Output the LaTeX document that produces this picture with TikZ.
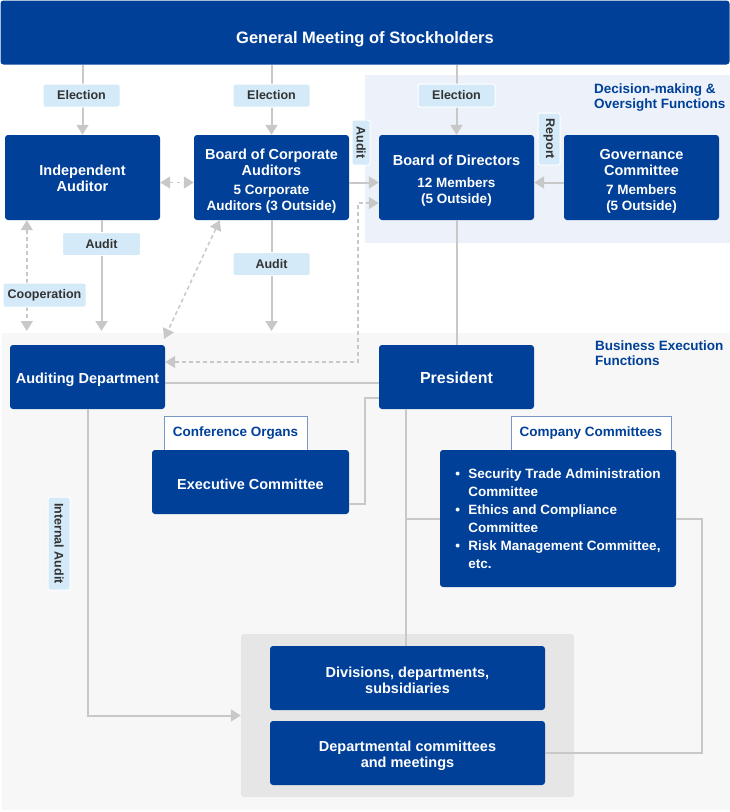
\documentclass[tikz,border=0pt]{standalone}
\usepackage{fontspec}
\setmainfont{Liberation Sans}
\usetikzlibrary{arrows.meta}
\definecolor{navy}{RGB}{0,64,152}
\definecolor{decfill}{RGB}{237,242,250}
\definecolor{execfill}{RGB}{247,247,247}
\definecolor{boxgray}{RGB}{230,230,230}
\definecolor{tagblue}{RGB}{213,234,248}
\definecolor{tagtext}{RGB}{51,51,51}
\definecolor{tabline}{RGB}{120,150,200}
\definecolor{linegray}{RGB}{200,200,200}
\newcommand\members[1]{{\fontsize{13.5}{16}\selectfont #1}}

\begin{document}
\begin{tikzpicture}[x=1pt,y=-1pt,
  orgbox/.style={fill=navy,rounded corners=3pt,text=white,align=center,inner sep=0pt,minimum width=155pt,minimum height=85pt,text depth=0pt,font=\bfseries\fontsize{14.5}{16}\selectfont},
  lowbox/.style={orgbox,minimum height=64pt},
  tag/.style={fill=tagblue,draw=white,line width=1pt,rounded corners=2pt,text=tagtext,inner sep=0pt,minimum height=23pt,font=\bfseries\fontsize{12.5}{14}\selectfont},
  tab/.style={fill=white,draw=tabline,line width=0.8pt,text=navy,inner sep=0pt,minimum height=34pt,font=\bfseries\fontsize{13.5}{15}\selectfont},
  zonelabel/.style={anchor=west,align=left,text=navy,inner sep=0pt,font=\bfseries\fontsize{13.5}{15}\selectfont},
  conn/.style={draw=linegray,line width=2pt},
  arr/.style={conn,-{Triangle[width=12pt,length=10pt]}},
  dconn/.style={conn,line width=1.5pt,dash pattern=on 4pt off 3pt,{Triangle[width=12pt,length=10pt]}-{Triangle[width=12pt,length=10pt]}}
]
\useasboundingbox (0,0) rectangle (730,812);
\fill[decfill] (365,75) rectangle (730,243);
\fill[execfill] (2,333) rectangle (730,810);
\node[zonelabel] (dlab) at (594,97.5) {Decision-making \&\\Oversight Functions};
\node[zonelabel] (elab) at (595,353.5) {Business Execution\\Functions};
\node[fill=navy,rounded corners=3pt,minimum width=729pt,minimum height=64pt,text height=21pt,text depth=0pt,text=white,font=\bfseries\fontsize{16.5}{18}\selectfont] (gms) at (365,32.5) {General Meeting of Stockholders};

\node[orgbox,text height=27pt] (ia) at (82.5,177.5) {Independent\\Auditor};
\node[orgbox,text height=65pt] (bca) at (271.5,177.5) {Board of Corporate\\Auditors\\[3pt]\members{5 Corporate}\\\members{Auditors (3 Outside)}};
\node[orgbox,text height=51pt] (bod) at (456.5,177.5) {Board of Directors\\[6pt]\members{12 Members}\\\members{(5 Outside)}};
\node[orgbox,text height=65pt] (gc) at (641.5,177.5) {Governance\\Committee\\[3pt]\members{7 Members}\\\members{(5 Outside)}};
\node[lowbox,text height=13pt] (aud) at (87.5,377) {Auditing Department};
\node[lowbox,text height=12pt,font=\bfseries\fontsize{16}{18}\selectfont] (pres) at (456.5,377) {President};
\node[tab,minimum width=143pt] (conf) at (235.5,433) {Conference Organs};
\node[tab,minimum width=160pt] (ctab) at (591,433) {Company Committees};
\node[lowbox,minimum width=197pt,text height=14.6pt] (exe) at (250.5,482) {Executive Committee};
\node[orgbox,minimum width=236pt,minimum height=137pt,align=left,font=\bfseries\fontsize{13.5}{18}\selectfont] (com) at (558,518.5)
  {\makebox[13pt][l]{\textbullet}Security Trade Administration\\\hspace*{13pt}Committee\\\makebox[13pt][l]{\textbullet}Ethics and Compliance\\\hspace*{13pt}Committee\\\makebox[13pt][l]{\textbullet}Risk Management Committee,\\\hspace*{13pt}etc.};
\node[fill=boxgray,rounded corners=3pt,minimum width=333pt,minimum height=163pt] (grp) at (407.5,715.5) {};
\node[lowbox,minimum width=275pt,text height=30.6pt] (div) at (407.5,678) {Divisions, departments,\\subsidiaries};
\node[lowbox,minimum width=275pt,text height=28pt] (dep) at (407.5,753) {Departmental committees\\and meetings};

\coordinate (etop) at (0,331);
\draw[arr] (gms.south -| ia.north) -- (ia.north);
\draw[arr] (gms.south -| bca.north) -- (bca.north);
\draw[arr] (gms.south -| bod.north) -- (bod.north);
\draw[arr] ([yshift=-5pt]bca.east) -- ([yshift=-5pt]bod.west);
\draw[arr] ([yshift=-5pt]gc.west) -- ([yshift=-5pt]bod.east);
\draw[dconn,dash pattern=on 3pt off 4pt] ([yshift=-5pt]ia.east) -- ([yshift=-5pt]bca.west);
\draw[arr] ([xshift=19pt]ia.south) -- ([xshift=19pt]ia.south |- etop);
\draw[arr] (bca.south) -- (bca.south |- etop);
\draw[dconn] ([xshift=22pt]ia.south west) -- ([xshift=22pt]ia.south west |- etop);
\draw[dconn] ([xshift=26pt]bca.south west) -- ([xshift=-1pt,yshift=6pt]aud.north east);
\coordinate (dturn) at (358,203);
\draw[dconn] ([yshift=15pt]aud.east) -| (dturn) -- (dturn -| bod.west);
\draw[conn] (bod.south) -- (pres.north);
\draw[conn] ([yshift=-6pt]aud.east) -- ([yshift=-6pt]pres.west);
\draw[conn] ([yshift=-21pt]pres.west) -- ++(-14,0) |- ([yshift=-22pt]exe.east);
\coordinate (pdrop) at ([xshift=27pt]pres.south west);
\draw[conn] (pdrop) -- (pdrop |- div.north);
\draw[conn] (pdrop |- com.west) -- (com.west);
\draw[conn] (com.east) -- ++(26,0) |- (dep.east);
\draw[arr] (aud.south) |- (grp.west);

\node[tag,minimum width=77pt] (el1) at (81.5,95.5) {Election};
\node[tag,minimum width=77pt] (el2) at (271.5,95.5) {Election};
\node[tag,minimum width=77pt] (el3) at (456.5,95.5) {Election};
\node[tag,minimum width=78pt] (au1) at (101.5,244) {Audit};
\node[tag,minimum width=77pt] (au2) at (271.5,264) {Audit};
\node[tag,minimum width=83pt,minimum height=24pt] (coop) at (44.5,295) {Cooperation};
\node[tag,rotate=-90,minimum width=45pt,minimum height=18pt] (au3) at (361,142.5) {Audit};
\node[tag,rotate=-90,minimum width=52pt,minimum height=22pt] (rep) at (549,139) {Report};
\node[tag,rotate=-90,minimum width=93pt,minimum height=22pt] (ina) at (59,543.5) {Internal Audit};
\end{tikzpicture}
\end{document}
